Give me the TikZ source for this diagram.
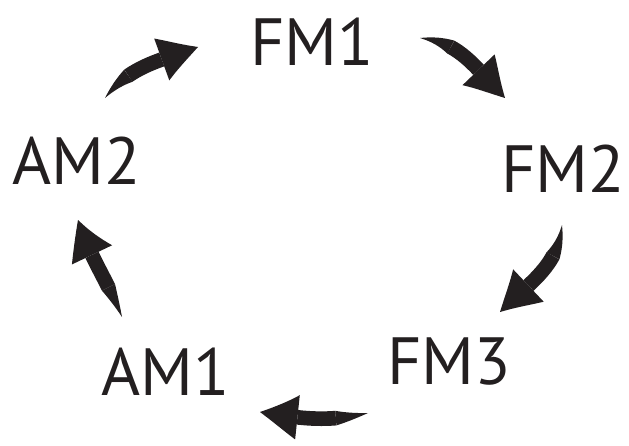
\documentclass[tikz,border=0pt]{standalone}
\usepackage{fontspec}
\setmainfont{PT Sans}
\usepackage{xcolor}
\usetikzlibrary{arrows.meta,bending}
\usetikzlibrary{positioning}

\definecolor{ink}{HTML}{231F20}

\begin{document}
\begin{tikzpicture}[x=0.03cm,y=0.03cm,
  mode/.style={inner sep=0pt, text=ink, font=\fontsize{57}{60}\selectfont},
  turn/.style={draw=ink, line width=12.5pt,
    {Triangle[length=30pt,width=12.5pt,line width=0pt,bend]}-{Triangle[length=35pt,width=38pt,line width=0pt,bend]}}]

 % frame of the whole picture (pixel units, origin bottom left)
 \useasboundingbox (0,0) rectangle (629,445);

 % the five modulation states, clockwise from the top
 \node[mode] (FMone) at (312,403) {FM1};
 \node[mode] (FMtwo) at (563,276) {FM2};
 \node[mode] (FMthree) at (449,83) {FM3};
 \node[mode] (AMone) at (166,73) {AM1};
 \node[mode] (AMtwo) at (77,284) {AM2};

 % free ends of the curved arrows between the states
 \coordinate (tailA) at (105,347); \coordinate (headA) at (198,398);
 \coordinate (tailB) at (420,407); \coordinate (headB) at (505,347);
 \coordinate (tailC) at (562,220); \coordinate (headC) at (500,133);
 \coordinate (tailD) at (368,32);  \coordinate (headD) at (260,33);
 \coordinate (tailE) at (122,128); \coordinate (headE) at (78,225);

 % arrows: AM2 -> FM1 -> FM2 -> FM3 -> AM1 -> AM2
 \draw[turn] (tailA) to[out=52,in=200] (headA);
 \draw[turn] (tailB) to[out=-5,in=135] (headB);
 \draw[turn] (tailC) to[out=-95,in=45] (headC);
 \draw[turn] (tailD) to[out=-167,in=-9] (headD);
 \draw[turn] (tailE) to[out=112,in=-72] (headE);

\end{tikzpicture}
\end{document}
